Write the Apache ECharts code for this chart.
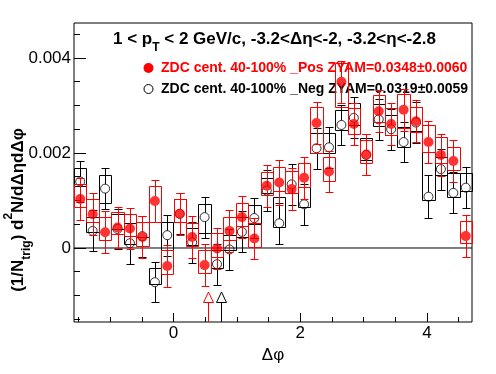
<!DOCTYPE html>
<html><head><meta charset="utf-8">
<script src="https://cdn.jsdelivr.net/npm/echarts@6/dist/echarts.min.js"></script>
<style>html,body{margin:0;padding:0;background:#fff}#c{width:496px;height:374px}</style>
</head><body><div id="c"></div>
<script>
// ---- data ----
const binCenters = [-1.4726,-1.2763,-1.0799,-0.8836,-0.6872,-0.4909,-0.2945,-0.0982,0.0982,0.2945,0.4909,0.6872,0.8836,1.0799,1.2763,1.4726,1.6690,1.8653,2.0617,2.2580,2.4544,2.6507,2.8471,3.0434,3.2398,3.4361,3.6325,3.8288,4.0252,4.2215,4.4179,4.6142];
const binWidth = 0.19635;

const posVal   = [0.00103,0.00071,0.00033,0.00043,0.00041,0.00023,0.00099,-0.00038,0.00072,0.00023,-0.00036,-0.00001,0.00036,0.00065,0.00020,0.00131,0.00138,0.00124,0.00148,0.00263,0.00161,0.00350,0.00261,0.00197,0.00288,0.00261,0.00291,0.00267,0.00223,0.00196,0.00183,0.00025];
const posStat  = [0.00044,0.00044,0.00044,0.00044,0.00044,0.00044,0.00044,0.00045,0.00044,0.00044,0.00044,0.00044,0.00044,0.00044,0.00044,0.00044,0.00047,0.00044,0.00044,0.00044,0.00044,0.00044,0.00044,0.00044,0.00044,0.00044,0.00044,0.00044,0.00045,0.00044,0.00044,0.00044];
const posSysHi = [0.00135,0.00103,0.00065,0.00075,0.00071,0.00054,0.00131,-0.00004,0.00103,0.00052,-0.00004,0.00031,0.00066,0.00094,0.00052,0.00161,0.00170,0.00162,0.00178,0.00296,0.00192,0.00389,0.00294,0.00227,0.00322,0.00294,0.00324,0.00297,0.00259,0.00233,0.00213,0.00057];
const posSysLo = [0.00086,0.00054,0.00017,0.00029,0.00025,0.00005,0.00054,-0.00055,0.00055,0.00005,-0.00053,-0.00018,0.00017,0.00047,0.00003,0.00112,0.00121,0.00115,0.00129,0.00199,0.00140,0.00297,0.00240,0.00178,0.00266,0.00238,0.00252,0.00245,0.00203,0.00178,0.00164,0.00010];

const negVal   = [0.00140,0.00036,0.00125,0.00040,0.00010,0.00025,-0.00072,0.00027,0.00072,0.00012,0.00065,-0.00034,-0.00003,0.00034,0.00063,0.00121,0.00052,0.00134,0.00092,0.00210,0.00212,0.00259,0.00274,0.00196,0.00271,0.00250,0.00223,0.00264,0.00108,0.00166,0.00116,0.00127];
const negStat  = [0.00043,0.00043,0.00043,0.00043,0.00043,0.00043,0.00042,0.00043,0.00043,0.00043,0.00043,0.00043,0.00043,0.00043,0.00043,0.00043,0.00043,0.00043,0.00043,0.00043,0.00043,0.00043,0.00043,0.00043,0.00043,0.00043,0.00043,0.00043,0.00045,0.00043,0.00043,0.00043];
const negSysHi = [0.00168,0.00066,0.00154,0.00072,0.00052,0.00054,-0.00043,0.00055,0.00103,0.00042,0.00093,-0.00004,0.00027,0.00066,0.00091,0.00147,0.00108,0.00162,0.00129,0.00242,0.00243,0.00290,0.00305,0.00231,0.00303,0.00280,0.00255,0.00297,0.00203,0.00192,0.00157,0.00157];
const negSysLo = [0.00131,0.00033,0.00095,0.00039,0.00008,0.00024,-0.00076,-0.00004,0.00055,0.00006,0.00032,-0.00042,-0.00004,0.00024,0.00051,0.00115,0.00045,0.00115,0.00087,0.00200,0.00200,0.00248,0.00259,0.00185,0.00257,0.00238,0.00212,0.00246,0.00101,0.00154,0.00108,0.00119];

const zyamPosX = [0.549];
const zyamNegX = [0.745];

const xMin = -Math.PI/2, xMax = 3*Math.PI/2;
const yMin = -0.0015579, yMax = 0.0047368;
const xMajor = [0, 2, 4];
const xMinor = [-1.5,-1,-0.5,0.5,1,1.5,2.5,3,3.5,4.5];
const yMajor = [0, 0.002, 0.004];
const yMinor = [-0.0015,-0.001,-0.0005,0.0005,0.001,0.0015,0.0025,0.003,0.0035,0.0045];

const titleText = '1 < p{s|T} < 2 GeV/c, -3.2<Δη<-2, -3.2<η<-2.8';
const posLabel = 'ZDC cent. 40-100% _Pos ZYAM=0.0348±0.0060';
const negLabel = 'ZDC cent. 40-100% _Neg ZYAM=0.0319±0.0059';
const xName = 'Δφ';

// ---- build ----
const FONT = '"Liberation Sans", Arial, Helvetica, sans-serif';
const RED = '#ff0000', BLACK = '#000000';

function rows(v, s, lo, hi) {
  return binCenters.map((x, i) => [x, v[i], s[i], lo[i], hi[i]]);
}
function makeRender(color, r) {
  return function (params, api) {
    const x = api.value(0), y = api.value(1), e = api.value(2), lo = api.value(3), hi = api.value(4);
    const hw = binWidth / 2;
    const p1 = api.coord([x - hw, hi]);
    const p2 = api.coord([x + hw, lo]);
    const c = api.coord([x, y]);
    const t = api.coord([x, y + e]);
    const b = api.coord([x, y - e]);
    const sn = v => Math.round(v) + 0.5;
    const cx = sn(c[0]);
    const st = { stroke: color, lineWidth: 1, fill: null };
    const x1 = sn(p1[0]), x2 = sn(p2[0]), y1 = sn(p1[1]), y2 = sn(p2[1]);
    return {
      type: 'group',
      children: [
        { type: 'rect', shape: { x: x1, y: y1, width: x2 - x1, height: y2 - y1 }, style: { stroke: color, fill: null, lineWidth: 1 } },
        { type: 'line', shape: { x1: cx, y1: sn(t[1]), x2: cx, y2: c[1] - r }, style: st },
        { type: 'line', shape: { x1: cx, y1: c[1] + r, x2: cx, y2: sn(b[1]) }, style: st },
        { type: 'line', shape: { x1: cx - 4, y1: sn(t[1]), x2: cx + 4, y2: sn(t[1]) }, style: st },
        { type: 'line', shape: { x1: cx - 4, y1: sn(b[1]), x2: cx + 4, y2: sn(b[1]) }, style: st }
      ]
    };
  };
}
function triRender(color) {
  return function (params, api) {
    const x = api.value(0);
    const p = api.coord([x, yMin]);
    const cx = Math.round(p[0]) + 0.5;
    const bot = p[1];
    return {
      type: 'group',
      children: [
        { type: 'polygon', shape: { points: [[cx, bot - 30], [cx - 5, bot - 19.5], [cx + 5, bot - 19.5]] }, style: { stroke: color, fill: '#fff', lineWidth: 1 } },
        { type: 'line', shape: { x1: cx, y1: bot - 19.5, x2: cx, y2: bot }, style: { stroke: color, lineWidth: 1 } }
      ]
    };
  };
}

const axisLabelBase = { color: '#000', fontFamily: FONT, fontSize: 17 };
const noLine = { show: false, onZero: false };
const option = {
  animation: false,
  backgroundColor: '#fff',
  grid: { left: 74, top: 23, width: 398, height: 299, show: true, borderColor: '#000', borderWidth: 1, backgroundColor: 'transparent' },
  xAxis: [
    { type: 'value', min: xMin, max: xMax, position: 'bottom',
      axisLine: noLine, splitLine: { show: false },
      axisTick: { show: true, inside: true, length: 9, customValues: xMajor, lineStyle: { color: '#000' } },
      axisLabel: Object.assign({ customValues: xMajor, margin: 3, formatter: v => String(v) }, axisLabelBase),
      name: xName, nameLocation: 'middle', nameGap: 20,
      nameTextStyle: { color: '#000', fontFamily: FONT, fontSize: 17 } },
    { type: 'value', min: xMin, max: xMax, position: 'bottom',
      axisLine: noLine, splitLine: { show: false },
      axisTick: { show: true, inside: true, length: 5, customValues: xMinor, lineStyle: { color: '#000' } },
      axisLabel: { show: false } }
  ],
  yAxis: [
    { type: 'value', min: yMin, max: yMax, position: 'left',
      axisLine: noLine, splitLine: { show: false },
      axisTick: { show: true, inside: true, length: 12, customValues: yMajor, lineStyle: { color: '#000' } },
      axisLabel: Object.assign({ customValues: yMajor, margin: 3, formatter: v => (v === 0 ? '0' : v.toFixed(3)) }, axisLabelBase) },
    { type: 'value', min: yMin, max: yMax, position: 'left',
      axisLine: noLine, splitLine: { show: false },
      axisTick: { show: true, inside: true, length: 6, customValues: yMinor, lineStyle: { color: '#000' } },
      axisLabel: { show: false } }
  ],
  series: [
    { type: 'line', data: [[xMin, 0], [xMax, 0]], symbol: 'none', lineStyle: { color: '#000', width: 1 }, z: 1, silent: true },
    { type: 'custom', renderItem: makeRender(BLACK, 4.5), data: rows(negVal, negStat, negSysLo, negSysHi), encode: { x: 0, y: 1 }, z: 2 },
    { type: 'scatter', data: binCenters.map((x, i) => [x, negVal[i]]), symbol: 'circle', symbolSize: 9,
      itemStyle: { color: 'rgba(0,0,0,0)', borderColor: BLACK, borderWidth: 1 }, z: 3 },
    { type: 'custom', renderItem: makeRender(RED, 4.5), data: rows(posVal, posStat, posSysLo, posSysHi), encode: { x: 0, y: 1 }, z: 4 },
    { type: 'scatter', data: binCenters.map((x, i) => [x, posVal[i]]), symbol: 'circle', symbolSize: 10,
      itemStyle: { color: RED }, z: 5 },
    { type: 'custom', renderItem: triRender(RED), data: zyamPosX.map(x => [x]), encode: { x: 0 }, z: 6 },
    { type: 'custom', renderItem: triRender(BLACK), data: zyamNegX.map(x => [x]), encode: { x: 0 }, z: 6 }
  ],
  graphic: [
    { type: 'text', left: 113, top: 24, style: { text: titleText, fill: '#000', font: 'bold 17px ' + FONT,
        rich: { s: { fontSize: 12, fontWeight: 'bold', fontFamily: FONT, verticalAlign: 'bottom', lineHeight: 12 } }, lineHeight: 30 } },
    { type: 'circle', shape: { cx: 148.5, cy: 68, r: 5 }, style: { fill: RED } },
    { type: 'text', x: 161, y: 68, style: { text: posLabel, fill: RED, font: 'bold 14px ' + FONT, verticalAlign: 'middle' } },
    { type: 'circle', shape: { cx: 148.5, cy: 89, r: 4.5 }, style: { fill: 'none', stroke: BLACK, lineWidth: 1 } },
    { type: 'text', x: 161, y: 89, style: { text: negLabel, fill: BLACK, font: 'bold 14px ' + FONT, verticalAlign: 'middle' } },
    { type: 'text', x: 18, y: 210, rotation: Math.PI / 2,
      style: { text: '(1/N{s|trig}) d{p|2}N/dΔηdΔφ', fill: '#000', font: 'bold 17px ' + FONT, align: 'center', verticalAlign: 'middle', lineHeight: 30,
        rich: { s: { fontSize: 12, fontWeight: 'bold', fontFamily: FONT, verticalAlign: 'bottom', lineHeight: 12 },
                p: { fontSize: 12, fontWeight: 'bold', fontFamily: FONT, verticalAlign: 'top', lineHeight: 12 } } } }
  ]
};
const chart = echarts.init(document.getElementById('c'), null, { renderer: 'canvas' });
chart.setOption(option);
</script>
</body></html>
